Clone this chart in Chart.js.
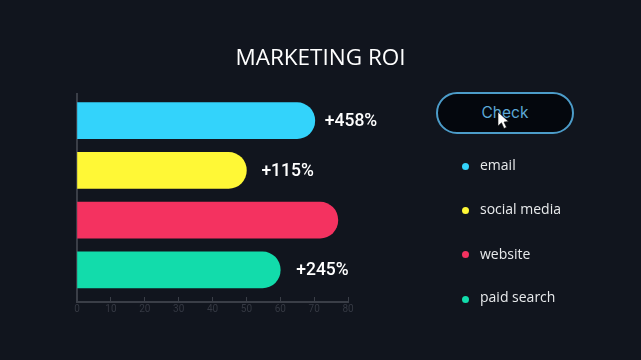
<!DOCTYPE html>
<html lang="en">
<head>
    <meta charset="UTF-8">
    <title>Marketing ROI</title>
    <style>
        html, body { margin: 0; padding: 0; background: #11151e; }
        #stage { position: relative; width: 641px; height: 360px; overflow: hidden; background: #11151e; }
        #chartBox { position: absolute; left: 0; top: 0; width: 641px; height: 360px; }
        h1 {
            position: absolute; left: 0; width: 641px; top: 41px; margin: 0;
            text-align: center; color: #fff; font: 400 22.5px "Open Sans", sans-serif;
        }
        #check {
            position: absolute; left: 436px; top: 92px; width: 134px; height: 38px;
            border: 2px solid #4c9cc9; border-radius: 21px; background: #04070d;
            color: #5ca8d6; font: 400 15.5px/38px Inter, sans-serif; text-align: center;
        }
        #cursor { position: absolute; left: 497px; top: 111px; }
        .item { position: absolute; left: 480px; color: #e8eaec; font: 400 14px "Open Sans", sans-serif; }
        .dot { position: absolute; left: 462px; width: 7px; height: 7px; border-radius: 50%; }
    </style>
    <script src="https://cdn.jsdelivr.net/npm/chart.js"></script>
</head>
<body>
<div id="stage">
    <div id="chartBox"><canvas id="roiChart" width="641" height="360"></canvas></div>
    <h1>MARKETING ROI</h1>
    <div id="check">Check</div>
    <svg id="cursor" width="14" height="20" viewBox="0 0 14 20">
        <path d="M1 1 L1 15 L4.5 11.8 L7 17.5 L9.5 16.3 L7 11 L11.5 10.5 Z" fill="#fff" stroke="#111" stroke-width="0.6"/>
    </svg>
    <div id="legend"></div>
</div>
<script>
    const categories = ['email', 'social media', 'website', 'paid search'];
    const values = [70.2, 50, 77, 60];
    const barLabels = ['+458%', '+115%', '', '+245%'];
    const labelGaps = [10, 15, 0, 16];
    const colors = ['#33d3fb', '#fff836', '#f43260', '#12dcab'];
    const legendTops = [155, 199, 244, 287];
    const dotTops = [163, 206.5, 250.5, 295.5];

    // legend on the right
    const legend = document.getElementById('legend');
    categories.forEach((name, i) => {
        const dot = document.createElement('div');
        dot.className = 'dot';
        dot.style.top = dotTops[i] + 'px';
        dot.style.background = colors[i];
        legend.appendChild(dot);
        const item = document.createElement('div');
        item.className = 'item';
        item.style.top = legendTops[i] + 'px';
        item.textContent = name;
        legend.appendChild(item);
    });

    // percent labels next to the bars
    const barLabelPlugin = {
        id: 'barLabels',
        afterDatasetsDraw(chart) {
            const ctx = chart.ctx;
            ctx.save();
            ctx.fillStyle = '#ffffff';
            ctx.font = '500 17.5px Roboto';
            ctx.textBaseline = 'middle';
            chart.getDatasetMeta(0).data.forEach((bar, i) => {
                ctx.fillText(barLabels[i], bar.x + labelGaps[i], bar.y + 1);
            });
            ctx.restore();
        }
    };

    new Chart(document.getElementById('roiChart').getContext('2d'), {
        type: 'bar',
        data: {
            datasets: [{
                data: values.map((v, i) => ({ x: v, y: i })),
                backgroundColor: colors,
                barThickness: 36,
                borderSkipped: false,
                borderRadius: { topLeft: 0, bottomLeft: 0, topRight: 18, bottomRight: 18 }
            }]
        },
        plugins: [barLabelPlugin],
        options: {
            indexAxis: 'y',
            responsive: false,
            animation: false,
            layout: { padding: { left: 77, right: 293, top: 94, bottom: 39 } },
            plugins: { legend: { display: false }, tooltip: { enabled: false } },
            scales: {
                x: {
                    type: 'linear',
                    min: 0,
                    max: 80,
                    ticks: { stepSize: 10, color: '#353943', font: { size: 10, family: 'Roboto' }, padding: 6, maxRotation: 0 },
                    grid: { drawOnChartArea: false, color: '#3a3e47', tickLength: -5, lineWidth: 1 },
                    border: { color: '#3a3e47', width: 2 }
                },
                y: {
                    type: 'linear',
                    reverse: true,
                    offset: false,
                    min: -0.535,
                    max: 3.646,
                    ticks: { display: false },
                    grid: { display: false, drawTicks: false },
                    border: { color: '#3a3e47', width: 2 }
                }
            }
        }
    });
</script>
</body>
</html>
